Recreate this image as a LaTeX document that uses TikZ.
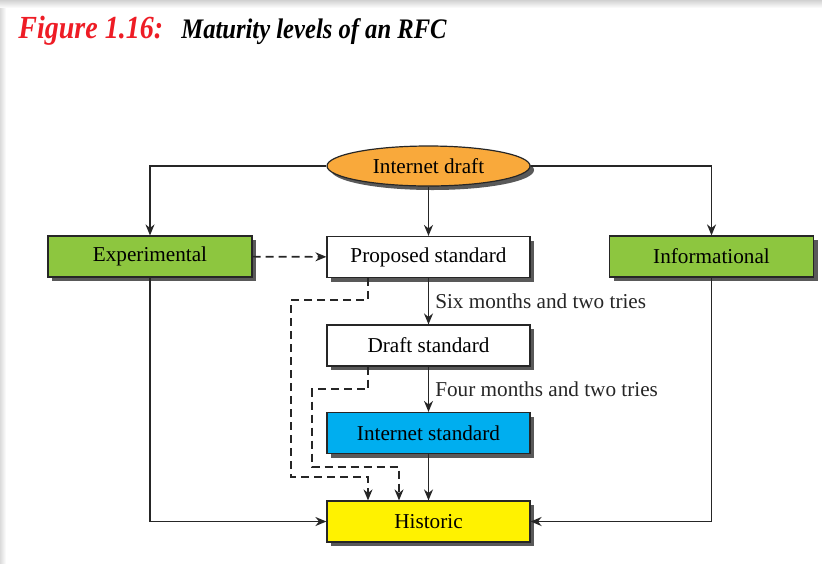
\documentclass[tikz,border=0pt]{standalone}
\usepackage{fontspec}
\setmainfont{Liberation Serif}
\usepackage{xcolor}
\usepackage{tikz}
\usetikzlibrary{arrows.meta,positioning,calc,shapes.geometric,shadows}
\definecolor{drftorange}{HTML}{F9A93B}
\definecolor{expgreen}{HTML}{8DC63F}
\definecolor{stdcyan}{HTML}{00AEEF}
\definecolor{histyellow}{HTML}{FFF200}
\definecolor{figred}{HTML}{EE1C25}

\begin{document}
\begin{tikzpicture}[x=0.5pt, y=-0.5pt, >={Stealth[length=5.5pt,width=4.5pt]},
  font=\fontsize{10.6}{12}\selectfont,
  lvl/.style={draw=black!85, line width=0.6pt, minimum width=101.5pt, minimum height=20.5pt,
    inner sep=0pt, fill=#1, drop shadow={shadow xshift=2pt, shadow yshift=-2pt, fill=black!65, opacity=1}},
  lvl/.default=white,
  conn/.style={line width=0.8pt, black!85},
  dsh/.style={line width=0.8pt, black!85, dash pattern=on 4pt off 2.5pt},
  ttl/.style={anchor=base west, inner sep=0pt, font=\bfseries\itshape}]
  % page
  \useasboundingbox (0,0) rectangle (822,563);
  \fill[white] (0,0) rectangle (822,563);
  \shade[top color=black!18, bottom color=white] (0,0) rectangle (822,8);
  \shade[left color=black!14, right color=white] (0,8) rectangle (6,563);
  % title
  \node[ttl, text=figred, font=\fontsize{14}{16}\bfseries\itshape\selectfont] (fignum) at (18,38) {\scalebox{1}[1.15]{Figure 1.16:}};
  \node[ttl, font=\fontsize{12.3}{14}\bfseries\itshape\selectfont] (figcap) at (181,38) {\scalebox{1}[1.15]{Maturity levels of an RFC}};
  % maturity levels
  \node[lvl=drftorange, ellipse, minimum width=101.5pt, minimum height=20pt] (idraft) at (428.5,166) {Internet draft};
  \node[lvl] (prop) at (428.5,257) {Proposed standard};
  \node[lvl] (dstd) at (428.5,345.5) {Draft standard};
  \node[lvl=stdcyan] (istd) at (428.5,433) {Internet standard};
  \node[lvl=histyellow] (hist) at (428.5,521.5) {Historic};
  \node[lvl=expgreen, minimum width=102pt] (exp) at (150,256.5) {Experimental};
  \node[lvl=expgreen, minimum width=102pt] (inf) at (711.5,256.5) {Informational};
  % from the draft
  \draw[conn, ->] (idraft.west) -| (exp.north);
  \draw[conn, ->] (idraft.east) -| (inf.north);
  \draw[conn, ->] (idraft) -- (prop);
  \draw[dsh, ->] (exp) -- (prop);
  % standards track
  \draw[conn, ->] (prop) -- node[right, inner sep=3pt]{Six months and two tries} (dstd);
  \draw[conn, ->] (dstd) -- node[right, inner sep=3pt]{Four months and two tries} (istd);
  \draw[conn, ->] (istd) -- (hist);
  % into historic
  \draw[conn, ->] (exp.south) |- (hist.west);
  \draw[conn, ->] (inf.south) |- (hist.east);
  \draw[dsh, ->] ($(prop.south)+(-60.5,0)$) coordinate (p1) -- ++(0,22) -| ++(-77,177) -| (hist.north -| p1);
  \draw[dsh, ->] ($(dstd.south)+(-60.5,0)$) -- ++(0,22.5) -| ++(-56,78) -| ($(hist.north)+(-29.5,0)$);
\end{tikzpicture}
\end{document}
